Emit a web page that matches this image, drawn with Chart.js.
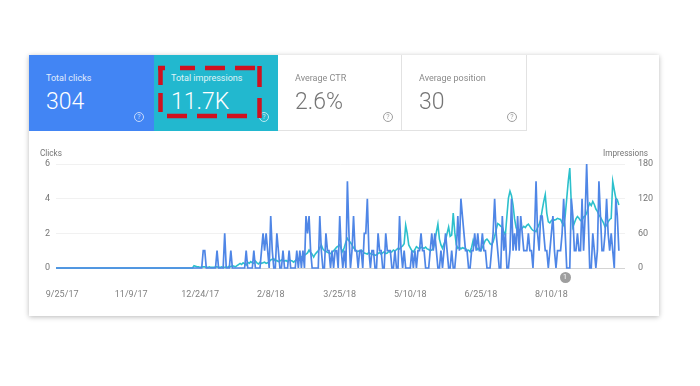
<!DOCTYPE html>
<html lang="en">
<head>
    <meta charset="UTF-8">
    <title>Search performance</title>
    <script src="https://cdn.jsdelivr.net/npm/chart.js"></script>
    <style>
        html, body {
            margin: 0;
            padding: 0;
            background: #ffffff;
            font-family: Roboto, sans-serif;
            overflow: hidden;
        }
        #page { position: relative; width: 700px; height: 386px; }
        #card {
            position: absolute; left: 29px; top: 55px; width: 630px; height: 261px;
            background: #fff; box-shadow: 0 1px 5px rgba(0,0,0,0.28);
        }
        canvas { position: absolute; left: 0; top: 0; }
        .tile { position: absolute; top: 55px; height: 76px; box-sizing: border-box; color: #757575; }
        .tile.plain { border-right: 1px solid #e2e2e2; border-bottom: 1px solid #e2e2e2; }
        .tile .name { position: absolute; left: 17px; top: 17px; font-size: 9px; line-height: 12px; white-space: nowrap; opacity: 0.85; }
        .tile .value { position: absolute; left: 17px; top: 33px; font-size: 23px; line-height: 28px; font-weight: 300; white-space: nowrap; }
        .tile .help {
            position: absolute; top: 57px; width: 10px; height: 10px; box-sizing: border-box;
            border: 1px solid currentColor; border-radius: 50%;
            font-size: 7px; line-height: 8px; text-align: center; opacity: 0.7;
        }
        .axis-name { position: absolute; top: 148px; font-size: 8.2px; line-height: 11px; color: #757575; }
        #marker {
            position: absolute; left: 559.5px; top: 271.5px; width: 11px; height: 11px; border-radius: 50%;
            background: #9e9e9e; color: #fff; font-size: 7px; line-height: 11px; text-align: center;
        }
        #highlight { position: absolute; left: 0; top: 0; }
    </style>
</head>
<body>
<div id="page">
    <div id="card"></div>
    <canvas id="perfChart" width="700" height="386"></canvas>

    <div class="tile" style="left:29px;width:125px;background:#4285f4;color:#fff">
        <div class="name">Total clicks</div><div class="value">304</div><div class="help" style="left:105px">?</div>
    </div>
    <div class="tile" style="left:154px;width:124px;background:#22b8cf;color:#fff">
        <div class="name">Total impressions</div><div class="value">11.7K</div><div class="help" style="left:105px">?</div>
    </div>
    <div class="tile plain" style="left:278px;width:124px">
        <div class="name">Average CTR</div><div class="value">2.6%</div><div class="help" style="left:105px">?</div>
    </div>
    <div class="tile plain" style="left:402px;width:125px">
        <div class="name">Average position</div><div class="value">30</div><div class="help" style="left:105px">?</div>
    </div>

    <div class="axis-name" style="left:40px">Clicks</div>
    <div class="axis-name" style="right:52px">Impressions</div>
    <div id="marker">1</div>

    <svg id="highlight" width="700" height="386">
        <path fill="none" stroke="#d0111f" stroke-width="4.5"
              d="M158 68H165 M180 68H195 M205 68H225 M235 68H255
                 M259.5 66V87 M259.5 98V118
                 M167 116H187 M197 116H217 M227 116H247
                 M160.5 66V85 M160.5 93V112"></path>
    </svg>
</div>

<script>
    const tickLabels = ['9/25/17', '11/9/17', '12/24/17', '2/8/18', '3/25/18', '5/10/18', '6/25/18', '8/10/18'];
    const clickTicks = [0, 2, 4, 6];
    const impressionTicks = [0, 60, 120, 180];

    const clicks = [
        0,0,0,0,0,0,0,0,0,0, 0,0,0,0,0,0,0,0,0,0, 0,0,0,0,0,0,0,0,0,0,
        0,0,0,0,0,0,0,0,0,0, 0,0,0,0,0,0,0,0,0,0, 0,0,0,0,0,0,0,0,0,0,
        0,0,0,0,0,0,0,0,0,0, 0,0,0,0,0,0,0,0,0,0, 0,0,0,0,0,0,0,0,0,0,
        0,0,0,0,0,0,1,1,0,0,
        0,0,0,0,0,1,0,0,0,0,
        2,0,0,0,1,0,0,0,0,0,
        0,0,0,0,1,0,0,0,0,1,
        0,0,0,0,1,2,1,2,1,0,
        3,1,0,0,2,1,0,0,1,0,
        0,0,1,0,0,0,0,1,0,1,
        0,1,0,3,2,3,1,0,0,0,
        0,0,3,1,0,0,2,1,1,0,
        1,0,1,1,0,3,1,0,1,0,
        5,2,0,1,3,1,1,0,1,1,
        0,2,2,4,1,0,1,1,0,0,
        2,1,1,0,0,2,1,1,1,0,
        0,1,0,0,3,1,0,1,0,0,
        0,0,1,0,1,0,1,1,2,1,
        1,0,0,0,1,2,1,2,1,0,
        0,1,0,1,2,1,0,0,1,0,
        0,1,3,1,4,3,2,1,1,0,
        0,1,1,2,1,2,1,1,2,1,
        1,0,0,0,1,2,4,2,1,0,
        0,3,1,2,0,0,1,4,1,2,
        1,3,1,3,2,1,1,1,2,1,
        1,0,2,5,2,1,3,3,2,1,
        1,0,1,2,3,1,0,1,1,1,
        2,4,2,0,0,0,4,3,1,1,
        2,1,1,4,1,3,6,3,0,0,
        2,1,0,1,5,3,1,1,2,4,
        2,1,2,1,0,4,3,1
    ];

    const impressions = [
        0,0,0,0,0,0,0,0,0,0, 0,0,0,0,0,0,0,0,0,0, 0,0,0,0,0,0,0,0,0,0,
        0,0,0,0,0,0,0,0,0,0, 0,0,0,0,0,0,0,0,0,0, 0,0,0,0,0,0,0,0,0,0,
        0,0,0,0,0,0,0,0,0,0, 0,0,0,0,0,0,0,0,0,0, 0,0,0,0,0,0,0,0,0,0,
        4,3,2,2,1,2,2,2,1,1,
        2,1,1,1,2,2,1,1,2,1,
        1,2,1,3,2,4,3,2,4,6,
        8,6,9,7,5,10,8,11,9,8,
        12,9,7,10,8,9,10,8,9,11,
        14,15,16,12,13,11,12,14,13,12,
        13,11,14,13,12,10,13,15,14,18,
        19,21,22,24,26,31,27,24,19,24,
        27,30,35,40,33,30,29,27,26,25,
        27,30,33,36,38,40,33,28,36,45,
        51,47,44,40,35,32,28,29,30,31,
        29,26,25,24,27,25,23,24,22,23,
        25,27,24,26,28,25,26,29,27,28,
        31,29,32,34,33,36,38,42,74,60,
        40,35,30,28,32,37,35,33,36,35,
        34,36,33,32,30,31,34,45,62,76,
        50,40,34,42,48,60,71,55,57,95,
        62,40,34,36,33,35,34,34,30,31,
        28,36,48,40,36,32,34,30,36,42,
        48,50,47,42,40,45,55,66,77,75,
        72,71,62,57,90,121,133,125,109,85,
        70,63,65,68,69,72,70,74,76,72,
        68,65,64,63,70,76,83,100,115,127,
        95,80,78,82,84,83,84,86,85,84,
        78,74,90,120,150,173,110,71,78,85,
        89,86,82,83,88,90,95,105,112,108,
        115,110,102,98,92,88,83,78,71,74,
        80,84,86,150,135,121,118,109
    ];

    // one label per day, a few empty days at the end so the baseline runs past the data
    const categories = [];
    const day = new Date(2017, 8, 21);
    for (let i = 0; i < clicks.length + 4; i++) {
        categories.push((day.getMonth() + 1) + '/' + day.getDate() + '/' + String(day.getFullYear()).slice(2));
        day.setDate(day.getDate() + 1);
    }

    const tickFont = { family: 'Roboto', size: 9 };

    new Chart(document.getElementById('perfChart').getContext('2d'), {
        type: 'line',
        data: {
            labels: categories,
            datasets: [
                // clip off, otherwise the lower half of the flat zero run gets cut by the chart area
                { label: 'Clicks', data: clicks, yAxisID: 'y', borderColor: '#4f86e6', borderWidth: 1.7, pointRadius: 0, tension: 0, clip: false },
                { label: 'Impressions', data: impressions, yAxisID: 'y1', borderColor: '#2cc0cc', borderWidth: 1.6, pointRadius: 0, tension: 0, clip: false }
            ]
        },
        options: {
            responsive: false,
            animation: false,
            layout: { padding: { top: 164, left: 0, right: 0, bottom: 0 } },
            plugins: { legend: { display: false }, tooltip: { enabled: false } },
            scales: {
                x: {
                    grid: { display: false },
                    border: { display: false },
                    afterFit: (scale) => { scale.height = 118; },
                    ticks: {
                        autoSkip: false,
                        maxRotation: 0,
                        padding: 13,
                        color: '#808080',
                        font: tickFont,
                        callback: function (value) {
                            const label = this.getLabelForValue(value);
                            return tickLabels.includes(label) ? label : '';
                        }
                    }
                },
                y: {
                    position: 'left',
                    min: 0,
                    max: 6,
                    afterBuildTicks: (scale) => { scale.ticks = clickTicks.map(v => ({ value: v })); },
                    afterFit: (scale) => { scale.width = 56; },
                    border: { display: false },
                    grid: {
                        drawTicks: false,
                        color: (ctx) => ctx.tick.value === 0 ? '#d4d4d4' : '#f1f1f1'
                    },
                    ticks: { padding: 6, color: '#757575', font: tickFont }
                },
                y1: {
                    position: 'right',
                    min: 0,
                    max: 180,
                    afterBuildTicks: (scale) => { scale.ticks = impressionTicks.map(v => ({ value: v })); },
                    afterFit: (scale) => { scale.width = 75; },
                    border: { display: false },
                    grid: { display: false },
                    ticks: { padding: 5, color: '#757575', font: tickFont }
                }
            }
        }
    });
</script>
</body>
</html>
